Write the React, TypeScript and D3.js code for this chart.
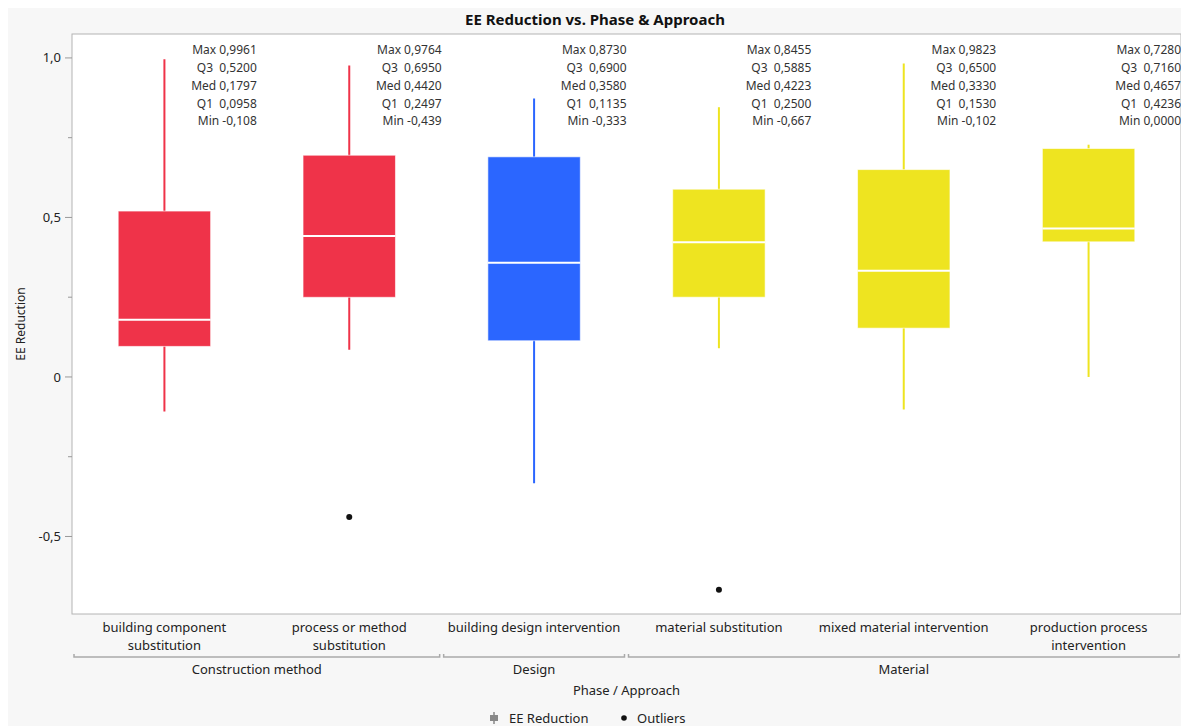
import React, { useEffect } from 'react';
import * as d3 from 'd3';

// categories and groups
const categories = [
  ['building component', 'substitution'],
  ['process or method', 'substitution'],
  ['building design intervention'],
  ['material substitution'],
  ['mixed material intervention'],
  ['production process', 'intervention'],
];
const groups = ['Construction method', 'Construction method', 'Design', 'Material', 'Material', 'Material'];
const colors = ['#EF3349', '#EF3349', '#2B66FF', '#EEE420', '#EEE420', '#EEE420'];

// summary stats
const maxVals = [0.9961, 0.9764, 0.873, 0.8455, 0.9823, 0.728];
const q3Vals = [0.52, 0.695, 0.69, 0.5885, 0.65, 0.716];
const medVals = [0.1797, 0.442, 0.358, 0.4223, 0.333, 0.4657];
const q1Vals = [0.0958, 0.2497, 0.1135, 0.25, 0.153, 0.4236];
// lower whisker end (differs where outliers exist)
const lowWhisker = [-0.108, 0.085, -0.333, 0.09, -0.102, 0];
const outliers = [
  { cat: 1, value: -0.439 },
  { cat: 3, value: -0.667 },
];
const statLabels = ['Max', 'Q3', 'Med', 'Q1', 'Min'];
const statText = [
  ['0,9961', '0,5200', '0,1797', '0,0958', '-0,108'],
  ['0,9764', '0,6950', '0,4420', '0,2497', '-0,439'],
  ['0,8730', '0,6900', '0,3580', '0,1135', '-0,333'],
  ['0,8455', '0,5885', '0,4223', '0,2500', '-0,667'],
  ['0,9823', '0,6500', '0,3330', '0,1530', '-0,102'],
  ['0,7280', '0,7160', '0,4657', '0,4236', '0,0000'],
];
const yTicks = [1, 0.5, 0, -0.5];
const yTickLabels = ['1,0', '0,5', '0', '-0,5'];
const yMinor = [0.75, 0.25, -0.25];

const W = 1181;
const H = 718;
const font = "'Noto Sans', sans-serif";

const App: React.FC = () => {
  useEffect(() => {
    document.body.style.overflow = 'hidden';
  }, []);

  const left = 64;
  const right = 1173;
  const top = 26;
  const bottom = 606;

  const x = d3.scaleBand<number>()
    .domain(d3.range(categories.length))
    .range([left, right]);
  const y = d3.scaleLinear().domain([-0.743, 1.075]).range([bottom, top]);
  const boxW = x.bandwidth() * 0.5;

  // group spans
  const groupSpans = d3.groups(d3.range(groups.length), i => groups[i]).map(([name, idx]) => ({
    name,
    x0: x(idx[0])!,
    x1: x(idx[idx.length - 1])! + x.bandwidth(),
  }));

  return (
    <svg width={W} height={H} style={{ display: 'block', fontFamily: font }}>
      <rect x={0} y={0} width={W} height={H} fill="#f7f7f7" />
      <text x={587} y={17} textAnchor="middle" fontSize={15} fontWeight="bold" fill="#111">
        EE Reduction vs. Phase &amp; Approach
      </text>
      <rect x={left} y={top} width={right - left} height={bottom - top} fill="#fff" stroke="#b4b4b4" />

      {/* y axis */}
      {yTicks.map((t, i) => (
        <g key={t}>
          <line x1={left - 7} x2={left} y1={y(t)} y2={y(t)} stroke="#999" />
          <text x={left - 11} y={y(t)} dy="0.35em" textAnchor="end" fontSize={13} fill="#222">
            {yTickLabels[i]}
          </text>
        </g>
      ))}
      {yMinor.map(t => (
        <line key={t} x1={left - 4} x2={left} y1={y(t)} y2={y(t)} stroke="#999" />
      ))}
      <text transform={`translate(17,${(top + bottom) / 2}) rotate(-90)`} textAnchor="middle" fontSize={12} fill="#222">
        EE Reduction
      </text>

      {/* boxes */}
      {categories.map((_, i) => {
        const cx = x(i)! + x.bandwidth() / 2;
        return (
          <g key={i}>
            <line x1={cx} x2={cx} y1={y(maxVals[i])} y2={y(lowWhisker[i])} stroke={colors[i]} strokeWidth={2} />
            <rect x={cx - boxW / 2} y={y(q3Vals[i])} width={boxW} height={y(q1Vals[i]) - y(q3Vals[i])}
              fill={colors[i]} stroke="#fff" strokeOpacity={0.6} strokeWidth={1} />
            <line x1={cx - boxW / 2} x2={cx + boxW / 2} y1={y(medVals[i])} y2={y(medVals[i])} stroke="#fff" strokeWidth={2} />
          </g>
        );
      })}
      {outliers.map((o, i) => (
        <circle key={i} cx={x(o.cat)! + x.bandwidth() / 2} cy={y(o.value)} r={3} fill="#111" />
      ))}

      {/* stats text */}
      {statText.map((vals, i) =>
        vals.map((v, j) => (
          <text key={`${i}-${j}`} x={x(i)! + x.bandwidth()} y={42 + j * 17.8} dy="0.35em" textAnchor="end"
            fontSize={12} fill="#333" style={{ whiteSpace: 'pre' }}>
            {`${statLabels[j]}${statLabels[j].length === 2 ? '  ' : ' '}${v}`}
          </text>
        ))
      )}

      {/* x axis labels */}
      {categories.map((lines, i) =>
        lines.map((l, j) => (
          <text key={`${i}-${j}`} x={x(i)! + x.bandwidth() / 2} y={619 + j * 18} dy="0.35em" textAnchor="middle" fontSize={13} fill="#222">
            {l}
          </text>
        ))
      )}
      {groupSpans.map(g => (
        <g key={g.name}>
          <path d={`M${g.x0 + 2},${646}V${649}H${g.x1 - 2}V${646}`} fill="none" stroke="#aaa" strokeWidth={1.5} />
          <text x={(g.x0 + g.x1) / 2} y={661} dy="0.35em" textAnchor="middle" fontSize={13} fill="#222">
            {g.name}
          </text>
        </g>
      ))}
      <text x={(left + right) / 2} y={682} dy="0.35em" textAnchor="middle" fontSize={13} fill="#222">
        Phase / Approach
      </text>

      {/* legend */}
      <g>
        <line x1={486} x2={486} y1={704} y2={716} stroke="#888" strokeWidth={1.5} />
        <rect x={482} y={707} width={8} height={6} fill="#888" />
        <text x={501} y={710} dy="0.35em" fontSize={13} fill="#222">EE Reduction</text>
        <circle cx={616} cy={710} r={2.8} fill="#111" />
        <text x={629} y={710} dy="0.35em" fontSize={13} fill="#222">Outliers</text>
      </g>
    </svg>
  );
};

export default App;
